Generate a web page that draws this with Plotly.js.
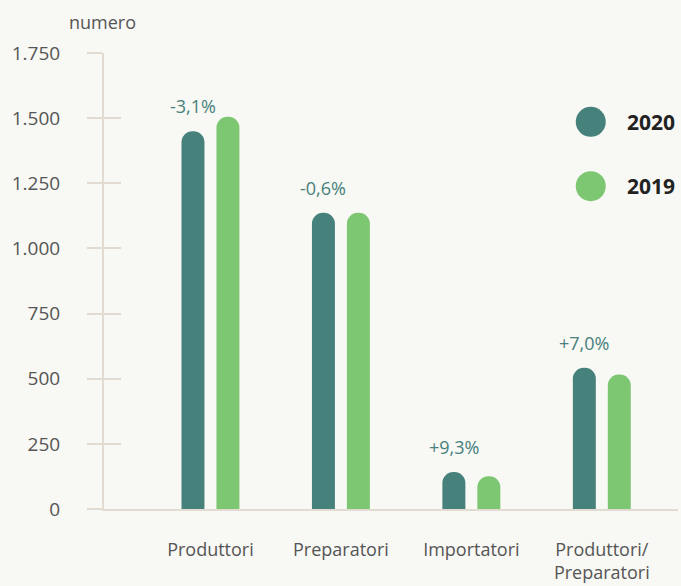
<!DOCTYPE html>
<html>
<head>
<meta charset="utf-8">
<script src="https://cdn.plot.ly/plotly-3.0.1.min.js"></script>
<style>
html,body{margin:0;padding:0;background:#f8f8f4;}
#chart{width:681px;height:586px;}
</style>
</head>
<body>
<div id="chart"></div>
<script>
const categories = ["Produttori", "Preparatori", "Importatori", "Produttori/<br>Preparatori"];
const values2020 = [1450, 1137, 142, 542];
const values2019 = [1505, 1137, 126, 516];
const changes = ["-3,1%", "-0,6%", "+9,3%", "+7,0%"];
const seriesNames = ["2020", "2019"];
const yTicks = [0, 250, 500, 750, 1000, 1250, 1500, 1750];

const C2020 = "#47817c";
const C2019 = "#7dc672";
const AXC = "#e2dbd2";
const FONT = "Open Sans, Noto Sans, sans-serif";

const traces = [
  {type: "bar", name: seriesNames[0], x: categories, y: values2020,
   marker: {color: C2020, cornerradius: "50%"}, hoverinfo: "skip"},
  {type: "bar", name: seriesNames[1], x: categories, y: values2019,
   marker: {color: C2019, cornerradius: "50%"}, hoverinfo: "skip"},
  // invisible helper so the overlaid tick axis is drawn
  {type: "scatter", mode: "markers", x: categories, y: values2020, yaxis: "y2",
   marker: {opacity: 0}, hoverinfo: "skip", showlegend: false}
];

const annotations = categories.map((c, i) => ({
  x: c, y: values2020[i], xref: "x", yref: "y",
  text: changes[i], showarrow: false,
  xshift: -17.5, yshift: 25,
  font: {family: FONT, size: 18, color: C2020}
}));

annotations.push({
  xref: "paper", yref: "paper", x: -0.002, y: 1.068,
  text: "numero", showarrow: false, xanchor: "center", yanchor: "middle",
  font: {family: FONT, size: 18, color: "#555"}
});

const legY = [0.849, 0.708];
const legColors = [C2020, C2019];
const shapes = [];
seriesNames.forEach((n, i) => {
  shapes.push({type: "circle", xref: "paper", yref: "paper",
    xsizemode: "pixel", ysizemode: "pixel", xanchor: 0.848, yanchor: legY[i],
    x0: -15, x1: 15, y0: -15, y1: 15,
    fillcolor: legColors[i], line: {width: 0}});
  annotations.push({xref: "paper", yref: "paper", x: 0.907, y: legY[i],
    xanchor: "left", yanchor: "middle", showarrow: false,
    text: "<b>" + n + "</b>",
    font: {family: FONT, size: 21, color: "#222"}});
});

const layout = {
  width: 681, height: 586,
  paper_bgcolor: "#f8f8f4", plot_bgcolor: "#f8f8f4",
  margin: {l: 104, r: 3, t: 53, b: 77},
  separators: ",.",
  showlegend: false,
  barmode: "group", bargap: 0.464, bargroupgap: 0.343,
  font: {family: FONT, color: "#555"},
  xaxis: {type: "category", range: [-0.816, 3.584],
    showline: true, linecolor: AXC, linewidth: 2,
    ticks: "", showgrid: false, zeroline: false,
    tickfont: {family: FONT, size: 18, color: "#555"},
    ticklabelstandoff: 23},
  yaxis: {range: [0, 1750], tickvals: yTicks, tickformat: ",",
    showline: true, linecolor: AXC, linewidth: 2,
    ticks: "outside", ticklen: 15, tickwidth: 2, tickcolor: AXC,
    showgrid: false, zeroline: false,
    tickfont: {family: FONT, size: 19, color: "#555"},
    ticklabelstandoff: 23},
  yaxis2: {overlaying: "y", side: "left", range: [0, 1750], tickvals: yTicks,
    ticks: "inside", ticklen: 17, tickwidth: 2, tickcolor: AXC,
    showticklabels: false, showgrid: false, zeroline: false, showline: false},
  annotations: annotations,
  shapes: shapes
};

Plotly.newPlot("chart", traces, layout, {displayModeBar: false, staticPlot: true});
</script>
</body>
</html>
